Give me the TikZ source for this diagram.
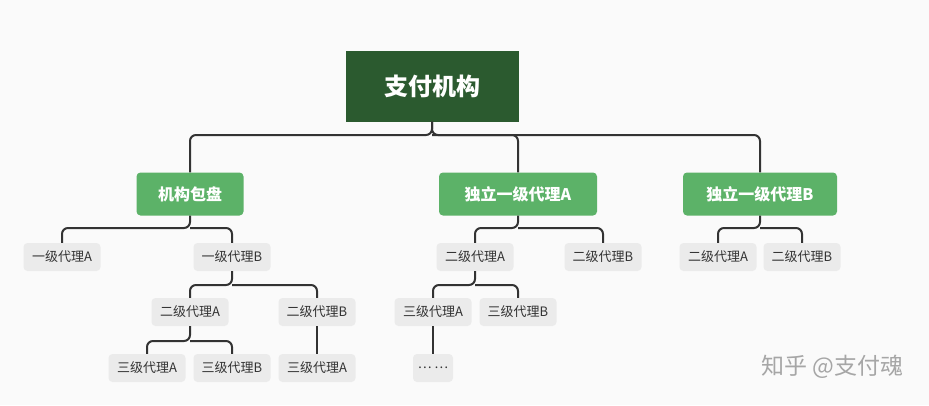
\documentclass[tikz,border=0pt]{standalone}
\usepackage{fontspec}
\setmainfont{Noto Sans CJK SC}
\begin{document}
\begin{tikzpicture}[x=1pt,y=-1pt,
 root/.style={fill=rootg,text=white,font=\bfseries\fontsize{24}{28}\selectfont,minimum width=173pt,minimum height=71pt,inner sep=0},
 lone/.style={fill=lg,text=white,rounded corners=4pt,font=\bfseries\fontsize{16}{18}\selectfont,minimum height=43pt,inner sep=0},
 leaf/.style={fill=leafg,text=black!80,rounded corners=4pt,font=\fontsize{13}{15}\selectfont,minimum width=77pt,minimum height=28pt,inner sep=0},
 con/.style={draw=black!80,line width=2pt,rounded corners=6pt}]
\definecolor{rootg}{HTML}{2B5A2F}
\definecolor{lg}{HTML}{5CB268}
\definecolor{leafg}{HTML}{EBEBEB}
\fill[fill=black!2] (0,0) rectangle (929,405);
\useasboundingbox (0,0) rectangle (929,405);
\node[root] (r) at (432,86) {支付机构};
\node[lone,minimum width=107pt] (a) at (190,194) {机构包盘};
\node[lone,minimum width=158pt] (b) at (518,194) {独立一级代理A};
\node[lone,minimum width=154pt] (c) at (760,194) {独立一级代理B};
\node[leaf] (a1) at (62,257) {一级代理A};
\node[leaf] (a2) at (232,257) {一级代理B};
\node[leaf] (a21) at (190,312) {二级代理A};
\node[leaf] (a22) at (317,312) {二级代理B};
\node[leaf] (a211) at (147,368) {三级代理A};
\node[leaf] (a212) at (232,368) {三级代理B};
\node[leaf] (a221) at (317,368) {三级代理A};
\node[leaf] (b1) at (475,257) {二级代理A};
\node[leaf] (b2) at (603,257) {二级代理B};
\node[leaf] (b11) at (433,312) {三级代理A};
\node[leaf] (b12) at (518,312) {三级代理B};
\node[leaf,minimum width=40pt] (b111) at (433,368) {… …};
\node[leaf] (c1) at (718,257) {二级代理A};
\node[leaf] (c2) at (802,257) {二级代理B};
\node[text=black!35,font=\fontsize{23}{26}\selectfont,anchor=east] (wm) at (907,367) {知乎 @支付魂};
% connectors
\draw[con] (r.south) -- (432,135) -| (a.north);
\draw[con] (r.south) -- (432,135) -| (c.north);
\draw[con] (432,135) -| (b.north);
\draw[con] (a.south) -- (190,228) -| (a1.north);
\draw[con] (190,228) -| (a2.north);
\draw[con] (a2.south) -- (232,285) -| (a21.north);
\draw[con] (232,285) -| (a22.north);
\draw[con] (a21.south) -- (190,341) -| (a211.north);
\draw[con] (190,341) -| (a212.north);
\draw[con] (a22.south) -- (a221.north);
\draw[con] (b.south) -- (518,228) -| (b1.north);
\draw[con] (518,228) -| (b2.north);
\draw[con] (b1.south) -- (475,285) -| (b11.north);
\draw[con] (475,285) -| (b12.north);
\draw[con] (b11.south) -- (b111.north);
\draw[con] (c.south) -- (760,228) -| (c1.north);
\draw[con] (760,228) -| (c2.north);
\end{tikzpicture}
\end{document}
